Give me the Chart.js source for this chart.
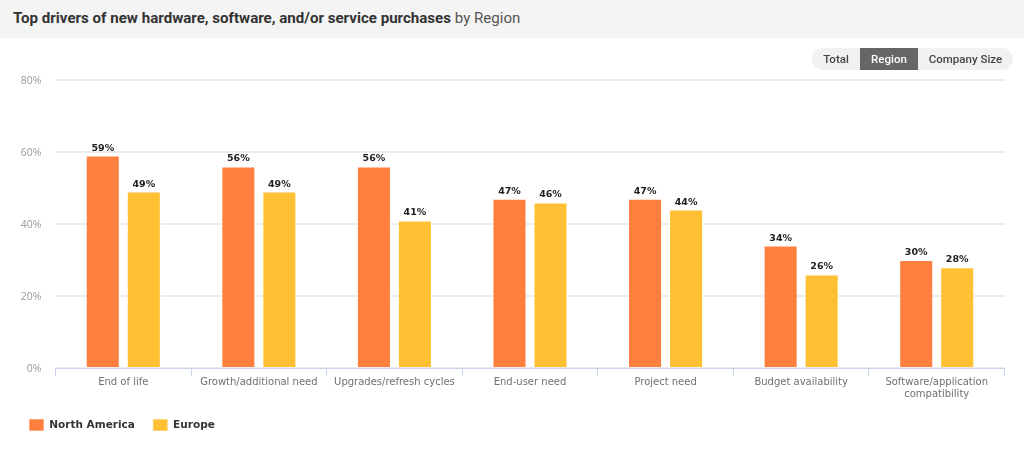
<!DOCTYPE html>
<html>
<head>
<meta charset="utf-8">
<style>
    html, body { margin: 0; padding: 0; background: #fff; width: 1024px; height: 454px; overflow: hidden; }
    #head { position: absolute; left: 0; top: 0; width: 1024px; height: 38px; background: #f4f4f4;
        font: 400 15.1px Roboto, sans-serif; line-height: 36px; color: #555; text-indent: 13px; }
    #head b { font-weight: 700; color: #333; }
    #switch { position: absolute; left: 812px; top: 48px; width: 201px; height: 22px; background: #f1f1f1;
        border-radius: 11px; font: 500 11.5px/22px Roboto, sans-serif; color: #444; }
    #switch span { position: absolute; top: 0; height: 22px; text-align: center; }
    #switch .on { background: #666; color: #fff; }
    #wrap { position: absolute; left: 0; top: 0; width: 1024px; height: 454px; }
</style>
</head>
<body>
<div id="wrap"><canvas id="myChart" width="1024" height="454"></canvas></div>
<div id="head"><b>Top drivers of new hardware, software, and/or service purchases</b> by Region</div>
<div id="switch">
    <span style="left:0;width:48px">Total</span>
    <span class="on" style="left:48px;width:58px">Region</span>
    <span style="left:106px;width:95px">Company Size</span>
</div>
<script src="https://cdn.jsdelivr.net/npm/chart.js@4"></script>
<script>
// --- DATA ---
const categories = ['End of life', 'Growth/additional need', 'Upgrades/refresh cycles', 'End-user need',
    'Project need', 'Budget availability', ['Software/application', 'compatibility']];
const northAmerica = [59, 56, 56, 47, 47, 34, 30];
const europe = [49, 49, 41, 46, 44, 26, 28];
const yTicks = [0, 20, 40, 60, 80];

const ORANGE = '#ff7f3e';
const YELLOW = '#ffc033';
const EDGE = 'rgba(255,255,255,0.6)';
const LABEL_FONT = '"DejaVu Sans", sans-serif';

// --- value labels above the bars ---
const barLabels = {
    id: 'barLabels',
    afterDatasetsDraw(chart) {
        const ctx = chart.ctx;
        ctx.save();
        ctx.font = 'bold 9.5px ' + LABEL_FONT;
        ctx.fillStyle = '#222';
        ctx.textAlign = 'center';
        ctx.textBaseline = 'alphabetic';
        chart.data.datasets.forEach((ds, d) => {
            chart.getDatasetMeta(d).data.forEach((bar, i) => {
                ctx.fillText(ds.data[i] + '%', bar.x, bar.y - 5);
            });
        });
        ctx.restore();
    }
};

new Chart(document.getElementById('myChart'), {
    type: 'bar',
    plugins: [barLabels],
    data: {
        labels: categories,
        datasets: [
            { label: 'North America', data: northAmerica, backgroundColor: ORANGE, borderColor: EDGE, borderWidth: 1 },
            { label: 'Europe', data: europe, backgroundColor: YELLOW, borderColor: EDGE, borderWidth: 1 }
        ]
    },
    options: {
        responsive: false,
        animation: false,
        devicePixelRatio: 1,
        categoryPercentage: 0.605,
        barPercentage: 0.83,
        layout: { padding: { left: 11, right: 19.5, top: 80, bottom: 13 } },
        plugins: {
            tooltip: { enabled: false },
            legend: {
                position: 'bottom',
                align: 'start',
                labels: {
                    boxWidth: 15,
                    boxHeight: 12,
                    padding: 18,
                    color: '#333',
                    font: { family: LABEL_FONT, size: 10.5, weight: 'bold' }
                }
            }
        },
        scales: {
            x: {
                afterFit(scale) { scale.height = 33; },
                border: { color: '#ccd6eb', width: 1 },
                grid: { drawOnChartArea: false, color: '#ccd6eb', tickLength: 8, offset: true },
                ticks: {
                    maxRotation: 0,
                    autoSkip: false,
                    padding: 0,
                    color: '#707070',
                    font: { family: LABEL_FONT, size: 10 }
                }
            },
            y: {
                min: 0,
                max: 80,
                afterFit(scale) { scale.width = 44.5; },
                afterBuildTicks(scale) { scale.ticks = yTicks.map(v => ({ value: v })); },
                border: { display: false },
                grid: { color: '#ececec', lineWidth: 2, drawTicks: false },
                ticks: {
                    padding: 14,
                    labelOffset: 1,
                    color: '#999',
                    font: { family: '"Open Sans", sans-serif', size: 10.5 },
                    callback: v => v + '%'
                }
            }
        }
    }
});
</script>
</body>
</html>
